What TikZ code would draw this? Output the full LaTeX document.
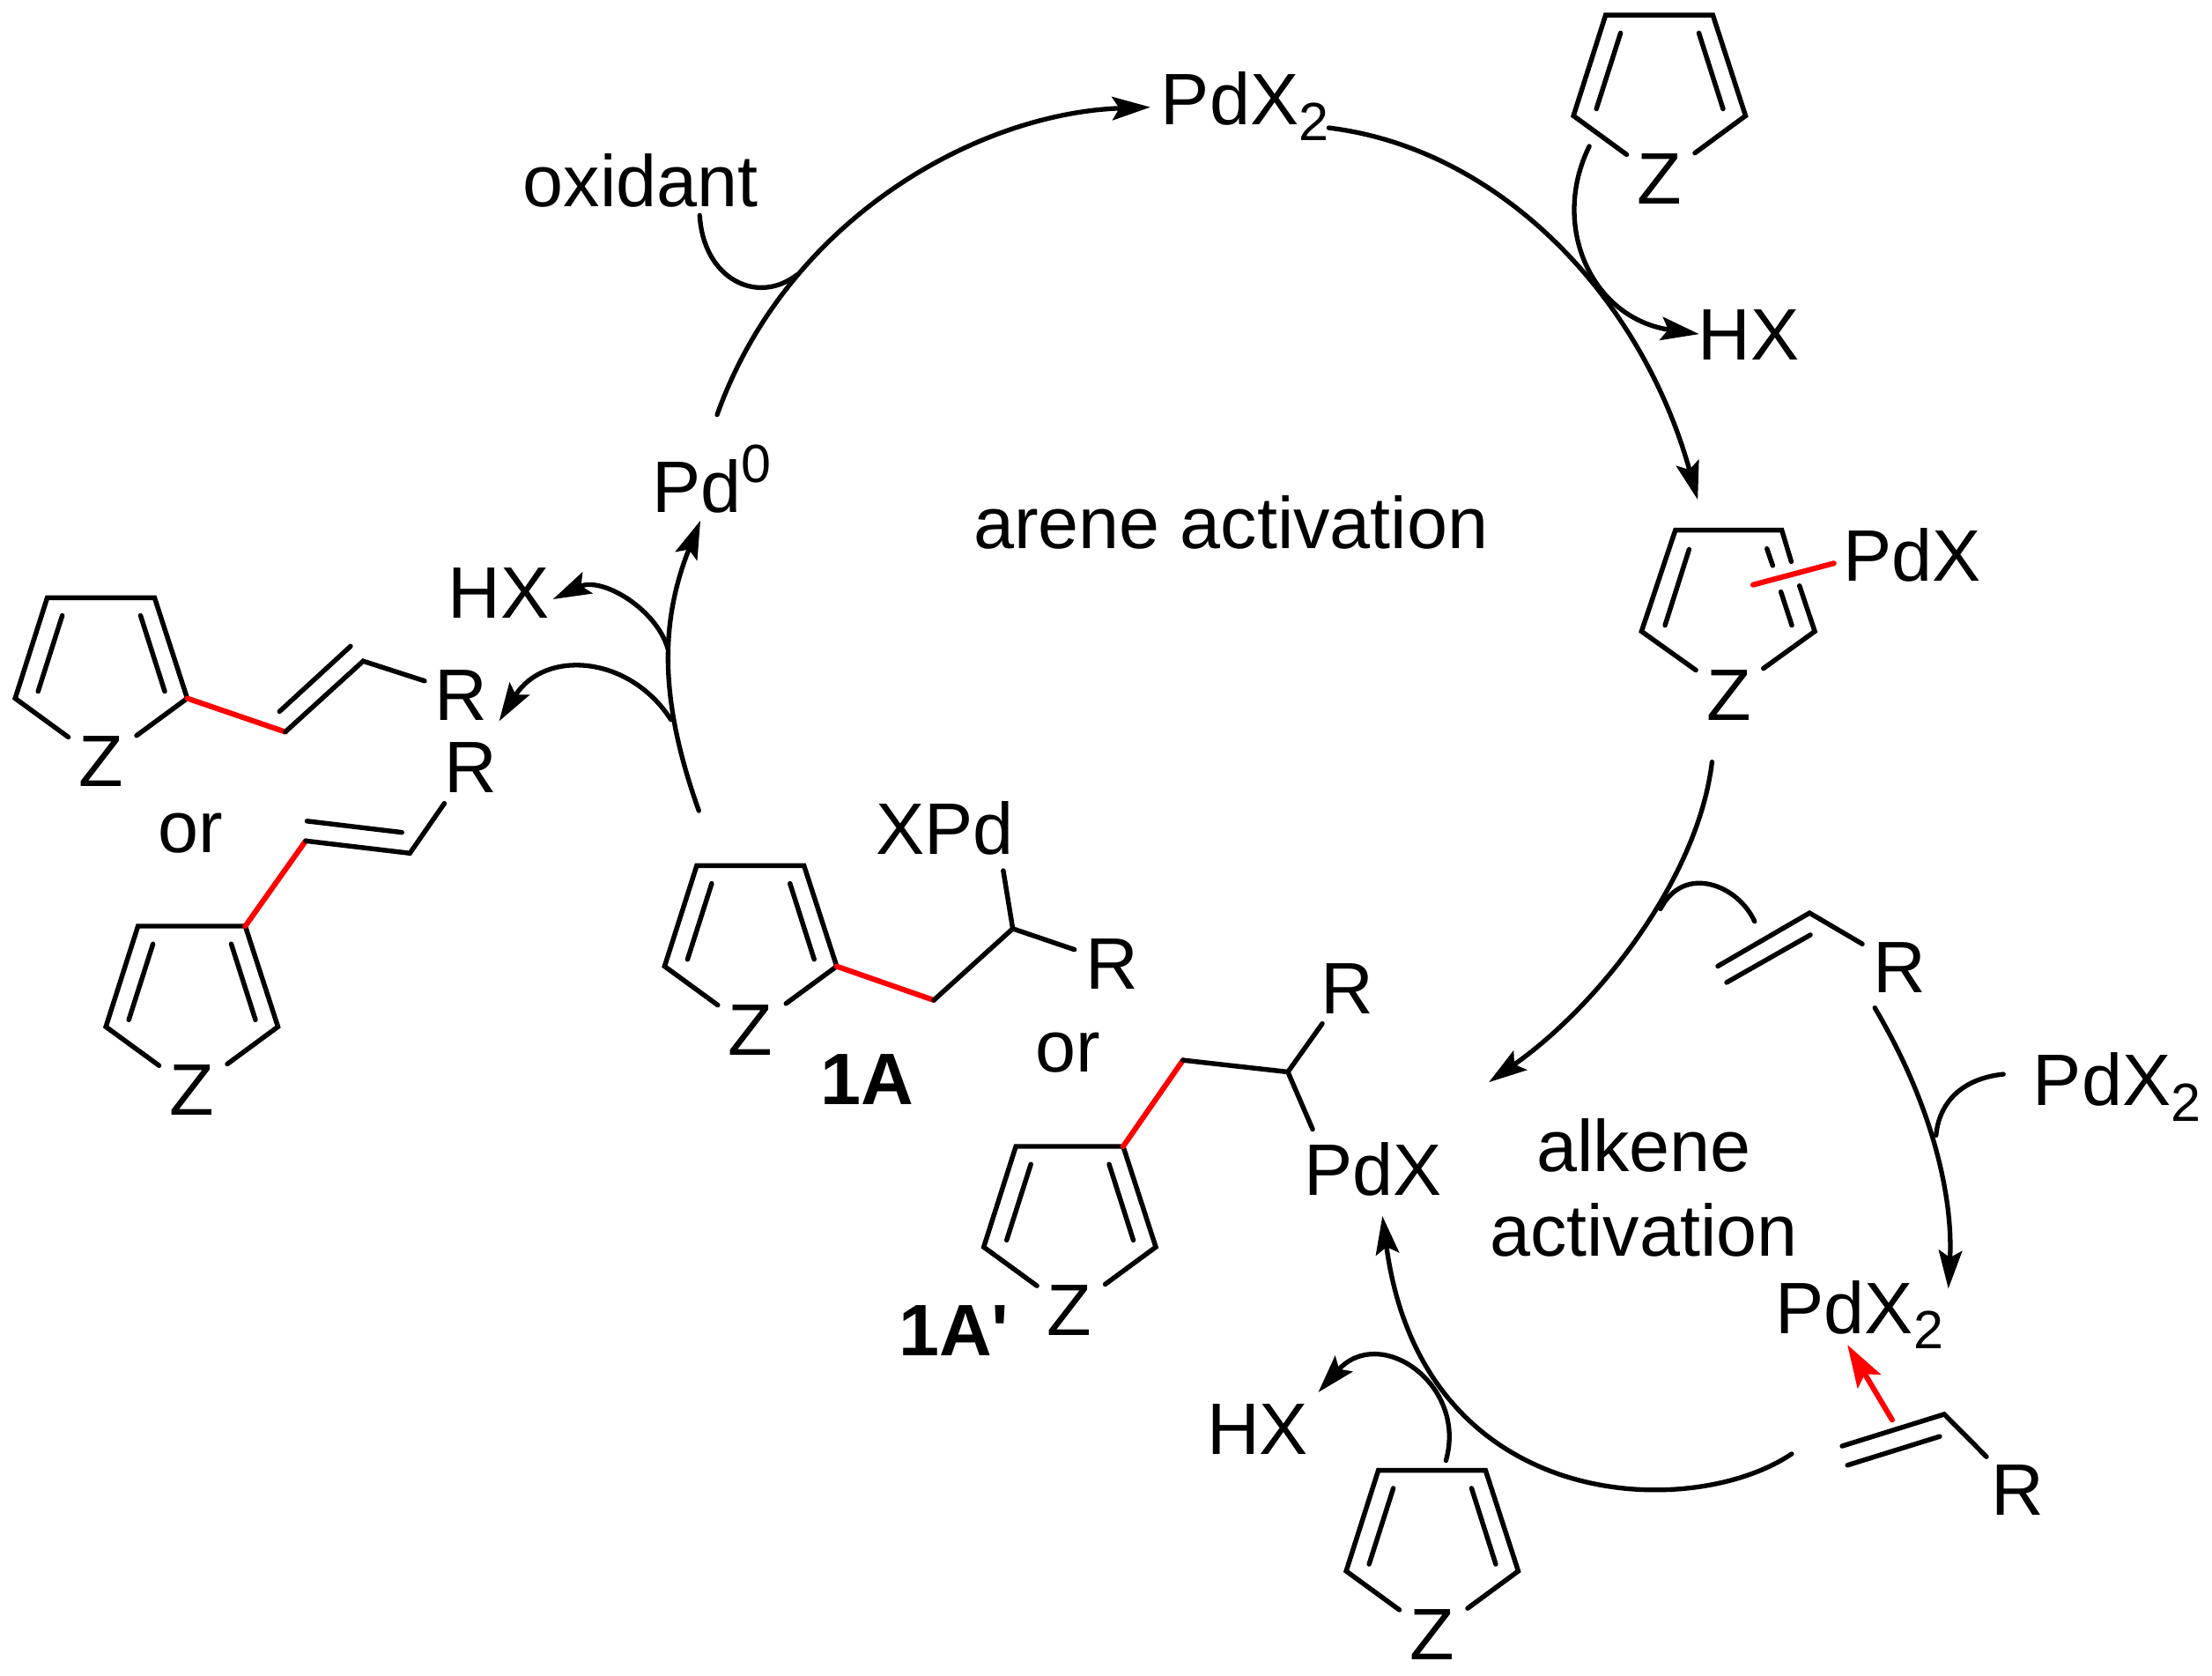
\documentclass[tikz,border=0pt]{standalone}
\usepackage{fontspec}
\setmainfont{Liberation Sans}
\newfontfamily\plainsans{Liberation Sans}
\usetikzlibrary{arrows.meta}
\definecolor{bondred}{RGB}{255,0,0}
\tikzset{
  bond/.style={line width=3.4pt,line cap=round,line join=miter,miter limit=10,black},
  redbond/.style={bond,line width=3.8pt,color=bondred},
  arc/.style={line width=3.3pt,line cap=round,black},
  arcarrow/.style={arc,-{Stealth[length=27pt,width=16.5pt,inset=5pt]}},
  lbl/.style={inner sep=0pt,outer sep=0pt,anchor=base west,font=\fontsize{51.5}{60}\selectfont},
  lblc/.style={lbl,anchor=base},
  blbl/.style={lbl,font=\fontsize{51.5}{60}\selectfont\bfseries},
}
\newcommand{\chemsub}[1]{\raisebox{-10.8pt}{\fontsize{38}{44}\selectfont #1}}
\newcommand{\ringsides}{%
    \draw[bond] (14.9,98.5) -- (-22.7,71.1) -- (0,0) -- (75.8,0) -- (98.9,71.1) -- (63.1,97.4);
    \draw[bond] (10.6,12.6) -- (-6.5,66.2);}
\newcommand{\zring}[3]{%
  \begin{scope}[shift={(#2,#3)}]
    \ringsides
    \draw[bond] (65.9,12.6) -- (83,66.2);
    \node[lblc] (#1) at (38,133.6) {Z};
  \end{scope}}
\begin{document}
\begin{tikzpicture}[x=1pt,y=-1pt]
\useasboundingbox (0,0) rectangle (1563,1183.3);
% rings
\zring{ztop}{1134.5}{10.7}
\zring{zleft}{33.4}{422.2}
\zring{zor}{97.5}{654.2}
\zring{zA}{492.3}{611.5}
\zring{zAp}{717.8}{809.8}
\zring{zbot}{973.9}{1038.7}
% ring carrying PdX: right-hand double bond interrupted by the red bond
\draw[bond] (1198.3,473.4) -- (1159.9,446) -- (1183.8,374.5) -- (1259,374.5) -- (1265.7,396.7);
\draw[bond] (1271.5,413.8) -- (1282.3,446) -- (1246,472.2);
\draw[bond] (1193.5,388.1) -- (1176.5,441.7);
\draw[bond] (1248.5,387.6) -- (1252.6,399.5);
\draw[bond] (1258.4,418.1) -- (1266.1,441.7);
\node[lblc] (zpd) at (1221.7,509.1) {Z};
\draw[redbond] (1238.7,413.1) -- (1295.8,397.9);
% texts
\node[lbl] (pdxtop) at (820.3,88.2) {PdX\chemsub{2}};
\node[lbl] (oxidant) at (369.6,145.7) {oxidant};
\node[lbl] (hxtop) at (1199.8,254) {HX};
\node[lbl] (pd0) at (460.9,362.1) {Pd\raisebox{21pt}{\fontsize{38}{44}\selectfont 0}};
\node[lbl] (arene) at (688,387.5) {arene activation};
\node[lbl] (pdxring) at (1302.2,410.2) {PdX};
\node[lbl] (hxleft) at (316.8,436.8) {HX};
\node[lbl] (rleft) at (307.3,508.6) {R};
\node[lbl] (ror) at (314,560) {R};
\node[lbl] (or1) at (112,602) {or};
\node[lbl] (xpd) at (619,603.5) {XPd};
\node[lbl] (rA) at (767,699) {R};
\node[lbl] (or2) at (732,757.4) {or};
\node[blbl] (oneA) at (580,780) {1A};
\node[lbl] (rAp) at (933.4,716) {R};
\node[lbl] (pdxAp) at (921.5,844.4) {PdX};
\node[blbl] (oneAp) at (635,957.7) {\plainsans\bfseries 1A'};
\node[lblc] (alk1) at (1161.5,827.6) {alkene};
\node[lblc] (alk2) at (1161.5,887) {activation};
\node[lbl] (ralk) at (1323.6,700.9) {R};
\node[lbl] (pdxright) at (1436.6,781) {PdX\chemsub{2}};
\node[lbl] (pdxmid) at (1254.7,941.8) {PdX\chemsub{2}};
\node[lbl] (ralk2) at (1407,1070) {R};
\node[lbl] (hxbot) at (852.8,1027.5) {HX};
% product 1
\draw[redbond] (132.3,493.3) -- (201.6,517);
\draw[bond] (201.6,517) -- (256.6,467) -- (300,481);
\draw[bond] (197.5,502.6) -- (247.7,456.5);
% product 2
\draw[redbond] (173.3,654.2) -- (216,594);
\draw[bond] (216,594) -- (289.6,602.7) -- (314,567.5);
\draw[bond] (216.9,580) -- (284,588);
% 1A
\draw[redbond] (591.2,682.6) -- (659.8,706.5);
\draw[bond] (659.8,706.5) -- (715.6,656) -- (759.2,670.8);
\draw[bond] (715.6,656) -- (708.9,615);
% 1A'
\draw[redbond] (793.6,809.8) -- (835.9,748.9);
\draw[bond] (835.9,748.9) -- (910,757.2) -- (934.3,723.1);
\draw[bond] (910,757.2) -- (927.5,797.7);
% alkene upper
\draw[bond] (1213.8,682.5) -- (1278.6,644.9) -- (1315.9,666.8);
\draw[bond] (1220,694) -- (1279.2,660.4);
% alkene lower
\draw[bond] (1301.6,1021.5) -- (1373.8,999) -- (1403.6,1029);
\draw[bond] (1305.4,1035) -- (1370.6,1014.7);
% red arrow
\coordinate (ra1) at (1337,1003);
\coordinate (ra2) at (1305.4,950);
\draw[redbond,-{Stealth[length=30pt,width=19pt,inset=6pt]}] (ra1) -- (ra2);
% cycle
\coordinate (a1) at (506.7,293);
\coordinate (a2) at (812.9,75.7);
\draw[arcarrow] (a1) .. controls (556,155) and (690,80) .. (a2);
\coordinate (b1) at (938.9,90.3);
\coordinate (b2) at (1199.6,353);
\draw[arcarrow] (b1) .. controls (1060,105) and (1160,210) .. (b2);
\coordinate (c1) at (1123,103.3);
\coordinate (c2) at (1200.6,236);
\draw[arcarrow] (c1) .. controls (1095,160) and (1125,225) .. (c2);
\coordinate (d1) at (494.4,152.1);
\coordinate (d2) at (563.3,194);
\draw[arc] (d1) .. controls (497,197) and (535,216) .. (d2);
\coordinate (e1) at (493.8,572.7);
\coordinate (e2) at (494.9,367.7);
\draw[arcarrow] (e1) .. controls (466,495) and (466,440) .. (e2);
\coordinate (f1) at (472,458.6);
\coordinate (f2) at (390.7,423.3);
\draw[arcarrow] (f1) .. controls (464,430) and (425,407) .. (f2);
\coordinate (g1) at (474.1,508.4);
\coordinate (g2) at (352.7,509.4);
\draw[arcarrow] (g1) .. controls (445,463) and (385,458) .. (g2);
\coordinate (h1) at (1209.7,538.2);
\coordinate (h2) at (1052,764.5);
\draw[arcarrow] (h1) .. controls (1200,620) and (1130,710) .. (h2);
\coordinate (i1) at (1239.8,650.9);
\coordinate (i2) at (1173.3,642);
\draw[arc] (i1) .. controls (1228,625) and (1190,610) .. (i2);
\coordinate (j1) at (1324.7,711.9);
\coordinate (j2) at (1376.7,910.3);
\draw[arcarrow] (j1) .. controls (1368,785) and (1380,850) .. (j2);
\coordinate (k1) at (1415.6,758.8);
\coordinate (k2) at (1368,802);
\draw[arc] (k1) .. controls (1385,762) and (1370,780) .. (k2);
\coordinate (l1) at (1266,1027);
\coordinate (l2) at (976.8,859);
\draw[arcarrow] (l1) .. controls (1195,1075) and (1005,1070) .. (l2);
\coordinate (m1) at (1021.7,1031.7);
\coordinate (m2) at (931.5,983.5);
\draw[arcarrow] (m1) .. controls (1037,978) and (975,935) .. (m2);
\end{tikzpicture}
\end{document}
